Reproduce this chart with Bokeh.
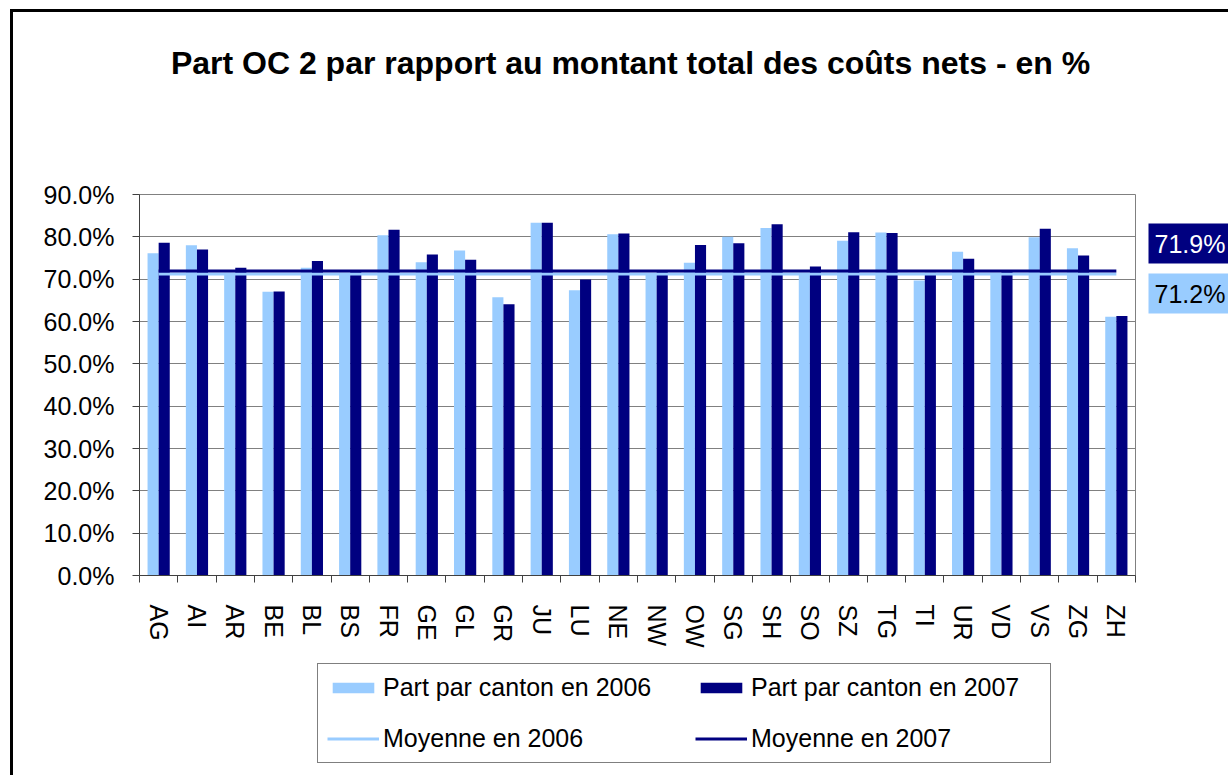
from bokeh.plotting import figure
from bokeh.layouts import column, row
from bokeh.models import (Range1d, FixedTicker, Legend, LegendItem, Label,
                          PrintfTickFormatter, ColumnDataSource)
from bokeh.transform import dodge
from bokeh.embed import file_html
from bokeh.resources import INLINE

cantons = ["AG", "AI", "AR", "BE", "BL", "BS", "FR", "GE", "GL", "GR", "JU", "LU", "NE",
           "NW", "OW", "SG", "SH", "SO", "SZ", "TG", "TI", "UR", "VD", "VS", "ZG", "ZH"]
part_2006 = [76.1, 78.0, 71.5, 67.0, 72.7, 71.5, 80.4, 74.0, 76.8, 65.7, 83.3, 67.4, 80.6,
             71.3, 73.9, 80.0, 82.1, 71.5, 79.1, 81.0, 69.7, 76.5, 71.5, 79.9, 77.3, 61.1]
part_2007 = [78.6, 77.0, 72.7, 67.1, 74.3, 71.8, 81.7, 75.8, 74.6, 64.1, 83.3, 69.9, 80.8,
             72.0, 78.1, 78.5, 83.0, 73.0, 81.1, 80.9, 71.5, 74.8, 71.9, 81.9, 75.6, 61.3]
moyenne_2006 = 71.2
moyenne_2007 = 71.9
y_ticks = [0, 10, 20, 30, 40, 50, 60, 70, 80, 90]

title_text = "Part OC 2 par rapport au montant total des coûts nets - en %"
legend_labels = ["Part par canton en 2006", "Part par canton en 2007",
                 "Moyenne en 2006", "Moyenne en 2007"]

LIGHT = "#99CCFF"
NAVY = "#000080"
FONT = "Liberation Sans"
FS = "25px"


def blank(width, height, x_range=(0, 1), y_range=(0, 1)):
    f = figure(width=width, height=height, x_range=x_range, y_range=y_range,
               output_backend="svg", toolbar_location=None,
               x_axis_location=None, y_axis_location=None,
               min_border_left=0, min_border_right=0, min_border_top=0, min_border_bottom=0)
    f.grid.visible = False
    f.outline_line_color = None
    f.background_fill_color = "white"
    f.border_fill_color = "white"
    return f


# ---- title strip
top = blank(1215, 120)
top.add_layout(Label(x=617, y=70, x_units="screen", y_units="screen", text=title_text,
                     text_font=FONT, text_font_size="32px", text_font_style="bold",
                     text_align="center", text_baseline="middle", text_color="black"))

# ---- main chart
n = len(cantons)
idx = list(range(n))
src = ColumnDataSource(dict(pos=idx, canton=cantons, v2006=part_2006, v2007=part_2007))


def draw_series(fig):
    r06 = fig.vbar(x=dodge("pos", -0.145), top="v2006", width=0.29,
                   source=src, fill_color=LIGHT, line_color=None)
    r07 = fig.vbar(x=dodge("pos", 0.145), top="v2007", width=0.29,
                   source=src, fill_color=NAVY, line_color=None)
    l06 = fig.line(x=[idx[0], idx[-1]], y=[moyenne_2006, moyenne_2006], line_color=LIGHT, line_width=3)
    l07 = fig.line(x=[idx[0], idx[-1]], y=[moyenne_2007, moyenne_2007], line_color=NAVY, line_width=3)
    return r06, r07, l06, l07


p = figure(x_range=Range1d(-0.5, n - 0.5), y_range=Range1d(y_ticks[0], y_ticks[-1]),
           width=1124, height=518, output_backend="svg", toolbar_location=None,
           min_border_left=126, min_border_right=2, min_border_top=62, min_border_bottom=75)
p.background_fill_color = "white"
p.border_fill_color = "white"
p.outline_line_color = "#808080"
p.outline_line_width = 1

draw_series(p)

p.yaxis.ticker = FixedTicker(ticks=y_ticks)
p.yaxis.formatter = PrintfTickFormatter(format="%.1f%%")
p.yaxis.axis_line_color = "#404040"
p.yaxis.major_tick_line_color = "#404040"
p.yaxis.major_tick_out = 7
p.yaxis.major_tick_in = 0
p.yaxis.minor_tick_line_color = None
p.yaxis.major_label_standoff = 18
p.yaxis.major_label_text_font = FONT
p.yaxis.major_label_text_font_size = FS
p.yaxis.major_label_text_color = "black"
p.ygrid.grid_line_color = "#808080"
p.ygrid.grid_line_width = 1
p.xgrid.grid_line_color = None

xa = p.xaxis[0]
xa.ticker = FixedTicker(ticks=idx, minor_ticks=[i - 0.5 for i in range(n + 1)])
xa.major_label_overrides = {i: c for i, c in zip(idx, cantons)}
xa.axis_line_color = "#404040"
xa.major_tick_line_color = None
xa.minor_tick_line_color = "#404040"
xa.minor_tick_out = 7
xa.minor_tick_in = 0
xa.major_tick_out = 7
xa.major_tick_in = 0
xa.major_label_orientation = "vertical"
xa.major_label_standoff = 22
xa.major_label_text_font = FONT
xa.major_label_text_font_size = FS
xa.major_label_text_color = "black"

# ---- value boxes to the right of the chart (frame aligned with the chart frame)
side = blank(91, 518)
side.add_layout(Label(x=11, y=332, x_units="screen", y_units="screen",
                      text=f"{moyenne_2007:.1f}%", text_font=FONT, text_font_size=FS,
                      text_color="white", text_baseline="middle",
                      background_fill_color=NAVY, padding=6))
side.add_layout(Label(x=11, y=282, x_units="screen", y_units="screen",
                      text=f"{moyenne_2006:.1f}%", text_font=FONT, text_font_size=FS,
                      text_color="black", text_baseline="middle",
                      background_fill_color=LIGHT, padding=6))

# ---- legend strip (series drawn far off-view so the legend shows their glyphs)
bottom = blank(1215, 125, x_range=(-1000, -999), y_range=(-1000, -999))
lb06, lb07, lm06, lm07 = draw_series(bottom)
legend = Legend(items=[LegendItem(label=legend_labels[0], renderers=[lb06]),
                       LegendItem(label=legend_labels[1], renderers=[lb07]),
                       LegendItem(label=legend_labels[2], renderers=[lm06]),
                       LegendItem(label=legend_labels[3], renderers=[lm07])],
                orientation="horizontal", ncols=2, location=(304, 12),
                label_text_font=FONT, label_text_font_size=FS, label_text_color="black",
                glyph_width=52, glyph_height=13, label_standoff=4, label_width=290,
                padding=9, spacing=22, margin=0,
                border_line_color="black", border_line_width=1,
                background_fill_color="white", background_fill_alpha=1)
bottom.add_layout(legend, "center")

layout = column(top, row(p, side), bottom,
                styles={"border-left": "3px solid black", "border-top": "3px solid black",
                        "margin-left": "10px", "margin-top": "9px"})

open("out.html", "w").write(file_html(layout, INLINE))
